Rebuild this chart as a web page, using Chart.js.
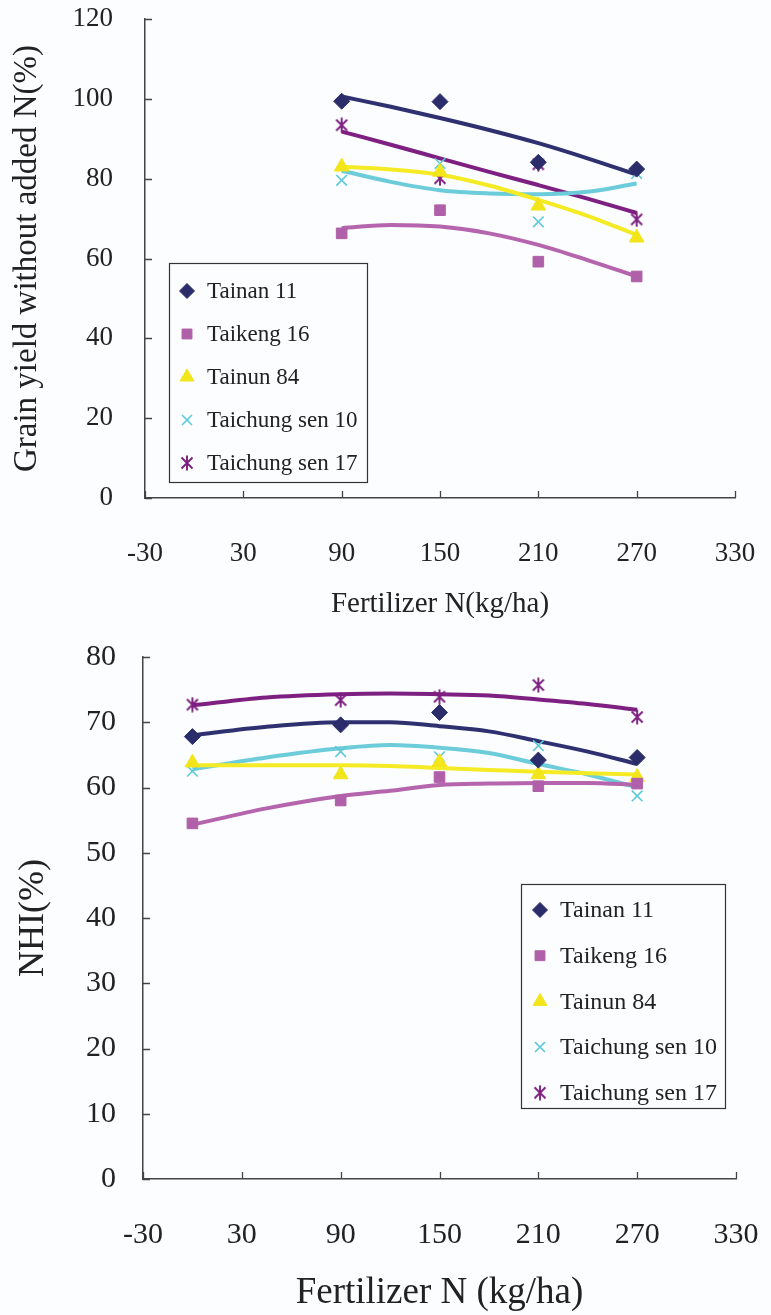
<!DOCTYPE html>
<html>
<head>
<meta charset="utf-8">
<script src="https://cdn.jsdelivr.net/npm/chart.js@4.4.1/dist/chart.umd.min.js"></script>
<style>
html,body{margin:0;padding:0;background:#fbfdfe;width:771px;height:1315px;overflow:hidden;}
#c1{position:absolute;left:0;top:0;}
#c2{position:absolute;left:0;top:630px;}
</style>
</head>
<body>
<canvas id="c1" width="771" height="630"></canvas>
<canvas id="c2" width="771" height="685"></canvas>
<script>
// ---------- data ----------
const seriesNames = ['Tainan 11', 'Taikeng 16', 'Tainun 84', 'Taichung sen 10', 'Taichung sen 17'];
const xTickStep = 60;

// Chart 1: grain yield without added N (%)
const nLevels1 = [90, 150, 210, 270];
const tainan11Yield = [99.4, 99.3, 84.1, 82.4];
const taikeng16Yield = [66.3, 72.1, 59.2, 55.5];
const tainun84Yield = [83.0, 81.7, 73.2, 65.2];
const tcs10Yield = [79.6, 83.8, 69.2, 81.3];
const tcs17Yield = [93.4, 80.1, 83.6, 69.8];
// trend lines
const trendX1 = [90, 120, 150, 180, 210, 240, 270];
const tainan11YieldFit = [100.6, 98.0, 95.2, 92.2, 88.9, 85.1, 81.0];
const taikeng16YieldFit = [67.6, 68.4, 68.0, 66.3, 63.4, 59.6, 55.5];
const tainun84YieldFit = [83.0, 82.3, 81.0, 78.3, 74.7, 70.7, 65.9];
const tcs10YieldFit = [82.0, 79.2, 77.1, 76.3, 76.1, 76.7, 78.8];
const tcs17YieldFit = [91.8, 88.5, 85.1, 81.7, 78.4, 75.0, 71.4];

// Chart 2: NHI (%)
const nLevels2 = [0, 90, 150, 210, 270];
const tainan11NHI = [67.8, 69.6, 71.5, 64.2, 64.6];
const taikeng16NHI = [54.5, 58.0, 61.6, 60.2, 60.6];
const tainun84NHI = [63.8, 62.0, 63.9, 62.0, 61.6];
const tcs10NHI = [62.5, 65.5, 64.7, 66.4, 58.7];
const tcs17NHI = [72.7, 73.4, 73.9, 75.7, 70.8];
const trendX2 = [0, 45, 90, 120, 150, 180, 210, 240, 270];
const tainan11NHIFit = [68.0, 69.3, 70.0, 70.0, 69.4, 68.6, 67.1, 65.5, 63.6];
const taikeng16NHIFit = [54.3, 56.8, 58.7, 59.5, 60.4, 60.6, 60.7, 60.7, 60.4];
const tainun84NHIFit = [63.4, 63.4, 63.4, 63.3, 63.0, 62.7, 62.4, 62.2, 62.0];
const tcs10NHIFit = [62.8, 64.6, 66.0, 66.5, 66.1, 65.3, 63.6, 62.0, 60.0];
const tcs17NHIFit = [72.6, 73.8, 74.3, 74.4, 74.3, 74.1, 73.5, 72.8, 71.9];

// ---------- styles ----------
const markerColors = ['#2B2D6B', '#B060A8', '#F2E51A', '#5CC9D8', '#7D1F7F'];
const lineColors = ['#2E3070', '#B565AE', '#F5EB25', '#6CCCDA', '#7E2082'];

function makeAsterisk(color, size) {
  const c = document.createElement('canvas');
  c.width = size; c.height = size;
  const g = c.getContext('2d');
  g.strokeStyle = color; g.lineWidth = 1.9;
  g.beginPath();
  g.moveTo(2.5, 2.5); g.lineTo(size - 2.5, size - 2.5);
  g.moveTo(size - 2.5, 2.5); g.lineTo(2.5, size - 2.5);
  g.moveTo(size / 2, 0.5); g.lineTo(size / 2, size - 0.5);
  g.stroke();
  return c;
}
const asterisk = makeAsterisk(markerColors[4], 16);
const pointStyles = ['rectRot', 'rect', 'triangle', 'crossRot', asterisk];
const pointRadii = [8, 7.5, 8.5, 7.5, 8];

function pts(xs, ys) { return xs.map((x, i) => ({x: x, y: ys[i]})); }

function buildDatasets(xs, valueSets, fitX, fitSets) {
  const ds = [];
  valueSets.forEach((vals, i) => {
    ds.push({
      label: seriesNames[i],
      data: pts(xs, vals),
      showLine: false,
      pointStyle: pointStyles[i],
      pointRadius: pointRadii[i],
      pointBackgroundColor: markerColors[i],
      pointBorderColor: markerColors[i],
      pointBorderWidth: i === 3 ? 1.6 : 1,
      isMarker: true,
      order: 1
    });
  });
  fitSets.forEach((vals, i) => {
    ds.push({
      label: seriesNames[i] + ' fit',
      data: pts(fitX, vals),
      showLine: true,
      borderColor: lineColors[i],
      borderWidth: 4,
      pointRadius: 0,
      cubicInterpolationMode: 'monotone',
      fill: false,
      order: 2
    });
  });
  return ds;
}

// inward tick marks
const inwardTicks = {
  id: 'inwardTicks',
  afterDraw(chart, args, opts) {
    const ctx = chart.ctx;
    const ca = chart.chartArea;
    const len = opts.length || 7;
    ctx.save();
    ctx.strokeStyle = opts.color || '#444';
    ctx.lineWidth = 1.3;
    ctx.beginPath();
    const xs = chart.scales.x, ys = chart.scales.y;
    xs.ticks.forEach(t => {
      const px = Math.round(xs.getPixelForValue(t.value)) + 0.5;
      ctx.moveTo(px, ca.bottom); ctx.lineTo(px, ca.bottom - len);
    });
    ys.ticks.forEach(t => {
      const py = Math.round(ys.getPixelForValue(t.value)) + 0.5;
      ctx.moveTo(ca.left, py); ctx.lineTo(ca.left + len, py);
    });
    ctx.stroke();
    ctx.restore();
  }
};

// boxed legend inside plot
const boxLegend = {
  id: 'boxLegend',
  afterDraw(chart, args, o) {
    const ctx = chart.ctx;
    ctx.save();
    ctx.strokeStyle = '#333';
    ctx.lineWidth = 1.2;
    ctx.strokeRect(o.x + 0.5, o.y + 0.5, o.w, o.h);
    ctx.font = o.font;
    ctx.textBaseline = 'middle';
    ctx.textAlign = 'left';
    const markers = chart.data.datasets.filter(d => d.isMarker);
    markers.forEach((d, i) => {
      const cy = o.y + o.first + i * o.step;
      ctx.fillStyle = d.pointBackgroundColor;
      ctx.strokeStyle = d.pointBorderColor;
      ctx.lineWidth = d.pointBorderWidth;
      Chart.helpers.drawPoint(ctx, {pointStyle: d.pointStyle, radius: d.pointRadius - 0.5, rotation: 0, borderWidth: d.pointBorderWidth}, o.x + o.mx, cy);
      ctx.fillStyle = '#222';
      ctx.fillText(d.label, o.x + o.tx, cy + 1);
    });
    ctx.restore();
  }
};

Chart.defaults.font.family = '"Liberation Serif", "Times New Roman", serif';
Chart.defaults.color = '#222';

function makeChart(canvasId, cfg) {
  return new Chart(document.getElementById(canvasId), {
    type: 'scatter',
    data: {datasets: cfg.datasets},
    plugins: [inwardTicks, boxLegend],
    options: {
      responsive: false,
      animation: false,
      layout: {padding: cfg.padding},
      plugins: {
        legend: {display: false},
        tooltip: {enabled: false},
        inwardTicks: {length: 7, color: '#444'},
        boxLegend: cfg.legend
      },
      scales: {
        x: {
          type: 'linear', min: -30, max: 330,
          afterFit: s => { s.height = cfg.xHeight; },
          ticks: {stepSize: xTickStep, font: {size: cfg.tickSize}, padding: 0, color: '#222', maxRotation: 0},
          grid: {display: true, drawOnChartArea: false, drawTicks: true, tickLength: cfg.xTickPad, tickColor: 'rgba(0,0,0,0)'},
          border: {display: true, color: '#444', width: 1.5},
          title: {display: true, text: cfg.xTitle, font: {size: cfg.xTitleSize}, color: '#222', padding: {top: 0, bottom: cfg.xTitlePadB}}
        },
        y: {
          type: 'linear', min: 0, max: cfg.yMax,
          afterFit: s => { s.width = cfg.yWidth; },
          ticks: {stepSize: cfg.yStep, font: {size: cfg.tickSize}, padding: 0, color: '#222'},
          grid: {display: true, drawOnChartArea: false, drawTicks: true, tickLength: cfg.yTickPad, tickColor: 'rgba(0,0,0,0)'},
          border: {display: true, color: '#444', width: 1.5},
          title: {display: true, text: cfg.yTitle, font: {size: cfg.yTitleSize}, color: '#222', padding: {top: cfg.yTitlePadT, bottom: 0}}
        }
      }
    }
  });
}

makeChart('c1', {
  datasets: buildDatasets(nLevels1,
    [tainan11Yield, taikeng16Yield, tainun84Yield, tcs10Yield, tcs17Yield],
    trendX1,
    [tainan11YieldFit, taikeng16YieldFit, tainun84YieldFit, tcs10YieldFit, tcs17YieldFit]),
  padding: {top: 19, right: 36, bottom: 0, left: 0},
  xHeight: 132, yWidth: 145,
  tickSize: 27, xTickPad: 40, yTickPad: 32,
  xTitle: 'Fertilizer N(kg/ha)', xTitleSize: 29, xTitlePadB: 8,
  yTitle: 'Grain yield without added N(%)', yTitleSize: 33, yTitlePadT: 8,
  yMax: 120, yStep: 20,
  legend: {x: 169, y: 263, w: 198, h: 219, first: 28, step: 43, mx: 18, tx: 38, font: '23px "Liberation Serif", serif'}
});

makeChart('c2', {
  datasets: buildDatasets(nLevels2,
    [tainan11NHI, taikeng16NHI, tainun84NHI, tcs10NHI, tcs17NHI],
    trendX2,
    [tainan11NHIFit, taikeng16NHIFit, tainun84NHIFit, tcs10NHIFit, tcs17NHIFit]),
  padding: {top: 27, right: 35, bottom: 0, left: 0},
  xHeight: 136, yWidth: 143,
  tickSize: 30, xTickPad: 38, yTickPad: 27,
  xTitle: 'Fertilizer N (kg/ha)', xTitleSize: 37, xTitlePadB: 0,
  yTitle: 'NHI(%)', yTitleSize: 36, yTitlePadT: 12,
  yMax: 80, yStep: 10,
  legend: {x: 521, y: 254, w: 204, h: 224, first: 26, step: 45.7, mx: 19, tx: 39, font: '24px "Liberation Serif", serif'}
});
</script>
</body>
</html>
